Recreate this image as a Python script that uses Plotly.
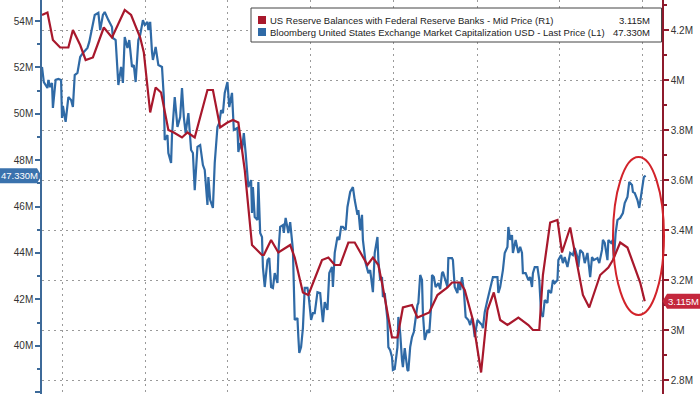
import pandas as pd
import plotly.graph_objects as go

# ---------------- data ----------------
START = "2021-09-09"   # first observation; offsets below are calendar days from it

mktcap_days = [0, 2, 6, 7, 9, 11, 12, 15, 18, 21, 22, 23, 25, 26, 29, 32, 34, 36, 39, 42,
               45, 50, 52, 55, 58, 62, 64, 67, 69, 73, 77, 78, 81, 84, 87, 89, 91, 94, 96, 99,
               101, 103, 106, 108, 111, 113, 116, 117, 119, 121, 122, 125, 128, 132, 134, 135, 138, 139, 142, 143,
               146, 149, 152, 154, 156, 158, 161, 164, 166, 168, 171, 174, 176, 177, 179, 182, 183, 185, 188, 190,
               193, 195, 197, 199, 201, 204, 206, 209, 211, 215, 216, 218, 220, 222, 224, 226, 227, 230, 231, 232,
               234, 237, 238, 240, 242, 243, 245, 248, 250, 252, 254, 256, 259, 260, 262, 265, 266, 268, 271, 273,
               275, 276, 278, 281, 282, 283, 285, 287, 289, 292, 293, 296, 298, 300, 303, 306, 308, 309, 311, 314,
               316, 319, 320, 322, 325, 327, 329, 331, 334, 336, 339, 342, 344, 347, 348, 350, 352, 353, 356, 359,
               361, 363, 364, 366, 369, 370, 372, 374, 375, 377, 380, 381, 383, 385, 386, 388, 391, 392, 394, 396,
               397, 399, 402, 403, 405, 407, 409, 413, 414, 416, 418, 419, 421, 424, 426, 428, 429, 431, 433, 436,
               438, 440, 441, 446, 447, 451, 452, 454, 457, 458, 460, 462, 464, 466, 469, 471, 473, 474, 476, 479,
               481, 484, 485, 487, 490, 493, 496, 501, 502, 504, 507, 509, 512, 513, 515, 517, 518, 521, 524, 526,
               528, 529, 532, 535, 537, 539, 540, 542, 545, 547, 549, 551, 553, 556, 557, 560, 562, 564, 567, 568,
               571, 573, 575, 578, 581, 584, 586, 589, 590, 592, 595, 597, 600, 603, 605, 607, 611, 613, 616, 617,
               619, 622, 623, 626, 628, 629, 631, 633, 636, 639, 641, 644, 646, 649, 650, 652, 655, 657, 659, 661,
               662, 664]

mktcap_vals = [52.02, 51.37, 51.11, 51.46, 51.15, 51.33, 50.25, 51.46, 51.50, 51.46, 49.82, 50.34, 49.86, 49.65, 50.72, 50.59, 50.29, 51.67, 51.76, 52.45,
               52.62, 52.84, 53.10, 53.74, 54.26, 54.35, 53.61, 54.26, 54.39, 54.04, 53.74, 53.27, 53.18, 51.24, 52.02, 51.33, 53.31, 52.84, 53.18, 52.02,
               52.10, 51.37, 53.18, 53.40, 54.04, 53.83, 53.96, 53.61, 53.96, 52.66, 52.32, 52.88, 52.10, 52.02, 50.72, 48.87, 49.08, 48.31, 47.88, 49.08,
               50.72, 49.43, 49.86, 51.11, 49.86, 49.17, 50.03, 48.44, 48.31, 46.71, 48.57, 48.65, 47.88, 47.79, 47.58, 46.07, 47.27, 46.28, 45.94, 47.88,
               49.43, 49.60, 50.16, 50.03, 50.90, 51.37, 50.29, 50.90, 49.30, 49.39, 48.35, 48.74, 48.44, 49.17, 48.31, 47.14, 46.84, 47.14, 45.72, 46.84,
               45.55, 45.42, 47.06, 44.86, 44.69, 43.39, 42.53, 43.69, 43.78, 42.53, 42.49, 43.13, 42.70, 44.00, 45.12, 45.20, 44.86, 45.51, 44.86, 45.33,
               44.26, 44.13, 41.11, 41.19, 40.37, 39.69, 39.94, 40.76, 42.49, 42.49, 42.27, 41.11, 41.40, 41.40, 42.31, 42.27, 41.40, 41.02, 41.88, 41.54,
               43.13, 43.39, 42.53, 44.00, 44.69, 44.56, 45.12, 45.12, 44.99, 45.98, 46.63, 46.84, 46.28, 45.64, 45.85, 44.99, 45.64, 44.56, 43.56, 43.13,
               43.26, 42.40, 42.31, 44.00, 44.69, 43.69, 42.83, 42.96, 42.10, 42.27, 41.11, 39.94, 39.81, 39.51, 38.95, 38.99, 39.94, 41.24, 40.55, 39.38,
               39.08, 39.90, 38.95, 38.91, 39.94, 40.37, 40.59, 41.75, 41.84, 43.05, 42.83, 41.40, 40.25, 40.68, 40.55, 41.67, 43.05, 42.96, 42.53, 42.70,
               42.44, 43.13, 43.18, 42.53, 43.78, 43.78, 43.69, 42.53, 42.27, 42.75, 42.40, 42.96, 42.40, 41.24, 41.11, 40.89, 41.19, 41.02, 40.37, 41.11,
               41.02, 40.89, 40.76, 41.45, 41.97, 42.53, 42.96, 42.96, 42.27, 42.53, 43.26, 44.00, 44.26, 45.12, 44.56, 44.77, 44.00, 44.56, 44.00, 44.26,
               44.00, 43.13, 43.13, 42.83, 42.96, 42.53, 43.13, 43.39, 43.39, 42.83, 41.40, 41.24, 41.97, 41.84, 42.40, 42.27, 42.83, 42.70, 42.83, 43.69,
               43.91, 43.56, 43.82, 43.39, 44.00, 43.91, 44.21, 43.82, 43.39, 44.13, 44.00, 43.56, 44.00, 42.96, 43.82, 43.69, 43.78, 43.56, 44.13, 44.56,
               44.43, 43.69, 44.56, 44.43, 44.56, 43.69, 44.86, 45.42, 45.51, 45.72, 46.15, 46.41, 47.06, 46.93, 46.63, 46.58, 46.28, 45.94, 46.41, 47.01,
               47.27, 47.33]

reserve_days = [0, 6, 12, 20, 29, 34, 42, 48, 56, 68, 77, 91, 98, 108, 112, 119, 125, 131, 139, 145,
                154, 160, 168, 182, 188, 196, 204, 210, 216, 223, 231, 242, 244, 252, 260, 273, 278, 287, 293, 308,
                315, 322, 328, 337, 344, 358, 364, 370, 375, 385, 391, 397, 407, 413, 426, 435, 446, 451, 460, 465,
                474, 483, 490, 497, 504, 512, 524, 535, 540, 547, 551, 559, 567, 572, 581, 595, 602, 614, 623, 628,
                636, 644, 658, 663]

reserve_vals = [4.26, 4.27, 4.16, 4.13, 4.13, 4.20, 4.14, 4.08, 4.09, 4.21, 4.17, 4.28, 4.26, 4.17, 4.11, 3.87, 3.97, 3.95, 3.80, 3.79,
                3.77, 3.79, 3.77, 3.96, 3.96, 3.81, 3.83, 3.84, 3.83, 3.64, 3.34, 3.30, 3.30, 3.36, 3.31, 3.34, 3.29, 3.15, 3.14, 3.28,
                3.29, 3.26, 3.26, 3.35, 3.35, 3.26, 3.29, 3.26, 3.17, 2.97, 2.97, 3.09, 3.10, 3.05, 3.07, 3.14, 3.17, 3.19, 3.19, 3.16,
                3.04, 2.83, 3.08, 3.15, 3.04, 3.02, 3.05, 3.02, 3.00, 3.00, 3.22, 3.43, 3.44, 3.31, 3.41, 3.14, 3.09, 3.22, 3.25, 3.28,
                3.35, 3.33, 3.19, 3.115]

left_tick_vals = [38, 40, 42, 44, 46, 48, 50, 52, 54]
left_tick_text = ["38M", "40M", "42M", "44M", "46M", "48M", "50M", "52M", "54M"]
right_tick_vals = [2.8, 3.0, 3.2, 3.4, 3.6, 3.8, 4.0, 4.2]
right_tick_text = ["2.8M", "3M", "3.2M", "3.4M", "3.6M", "3.8M", "4M", "4.2M"]

reserve_name = "US Reserve Balances with Federal Reserve Banks - Mid Price (R1)"
mktcap_name = "Bloomberg United States Exchange Market Capitalization USD - Last Price (L1)"

# ---------------- layout constants ----------------
W, H = 700, 394
ML, MR, MT, MB = 42, 38, 0, 0
PW, PH = W - ML - MR, H - MT - MB
LEFT_RANGE = [37.917, 54.906]
RIGHT_RANGE = [2.744, 4.32]
X_RANGE_DAYS = [0, 682]

RED = "#a8182c"
BLUE = "#2f6aa6"
LEFT_AXIS = "#3d6a99"
RIGHT_AXIS = "#8e1a2c"
GRID = "#9a9a9a"
FONT = "Liberation Sans"
LEG_SIZE = 9.5

start = pd.Timestamp(START)
mk_x = start + pd.to_timedelta(mktcap_days, unit="D")
rs_x = start + pd.to_timedelta(reserve_days, unit="D")
x_range = [start + pd.Timedelta(days=X_RANGE_DAYS[0]), start + pd.Timedelta(days=X_RANGE_DAYS[1])]


def px(x):
    return (x - ML) / PW


def py(y):
    return (H - MB - y) / PH


def vy(v, rng):
    return (v - rng[0]) / (rng[1] - rng[0])


fig = go.Figure()
fig.add_trace(go.Scatter(x=mk_x, y=mktcap_vals, mode="lines", name=mktcap_name,
                         line=dict(color=BLUE, width=2.2), yaxis="y", hoverinfo="skip"))
fig.add_trace(go.Scatter(x=rs_x, y=reserve_vals, mode="lines", name=reserve_name,
                         line=dict(color=RED, width=2.2), yaxis="y2", hoverinfo="skip"))

shapes = []
annotations = []

# legend box
shapes.append(dict(type="rect", xref="paper", yref="paper", x0=px(251), x1=px(661.5), y0=py(42), y1=py(8),
                   line=dict(color="#444444", width=1), fillcolor="white", layer="above"))
for (col, ytop, txt, val) in [(RED, 16, reserve_name, f"{reserve_vals[-1]:.3f}M"),
                              (BLUE, 28, mktcap_name, f"{mktcap_vals[-1]:.3f}M")]:
    shapes.append(dict(type="rect", xref="paper", yref="paper", x0=px(258), x1=px(266), y0=py(ytop + 8), y1=py(ytop),
                       line=dict(width=0), fillcolor=col, layer="above"))
    annotations.append(dict(xref="paper", yref="paper", x=px(267.5), y=py(ytop + 4), text=txt, showarrow=False,
                            xanchor="left", yanchor="middle", font=dict(family=FONT, size=LEG_SIZE, color="#222222")))
    annotations.append(dict(xref="paper", yref="paper", x=px(652), y=py(ytop + 4), text=val, showarrow=False,
                            xanchor="right", yanchor="middle", font=dict(family=FONT, size=LEG_SIZE, color="#222222")))

# last value tag on the left axis
bv = vy(mktcap_vals[-1], LEFT_RANGE)
bh = 7.5 / PH
shapes.append(dict(type="path", xref="paper", yref="paper",
                   path=f"M {px(0)},{bv-bh} L {px(37)},{bv-bh} L {px(41.5)},{bv} L {px(37)},{bv+bh} L {px(0)},{bv+bh} Z",
                   fillcolor="#3a72ad", line=dict(width=0), layer="above"))
annotations.append(dict(xref="paper", yref="paper", x=px(19), y=bv, text=f"{mktcap_vals[-1]:.3f}M", showarrow=False,
                        xanchor="center", yanchor="middle", font=dict(family=FONT, size=9.5, color="white")))

# last value tag on the right axis
rv = vy(reserve_vals[-1], RIGHT_RANGE)
rh = 7.5 / PH
shapes.append(dict(type="path", xref="paper", yref="paper",
                   path=f"M {px(662.5)},{rv} L {px(667)},{rv-rh} L {px(700)},{rv-rh} L {px(700)},{rv+rh} L {px(667)},{rv+rh} Z",
                   fillcolor="#c4273c", line=dict(width=0), layer="above"))
annotations.append(dict(xref="paper", yref="paper", x=px(683.5), y=rv, text=f"{reserve_vals[-1]:.3f}M", showarrow=False,
                        xanchor="center", yanchor="middle", font=dict(family=FONT, size=9.5, color="white")))

# highlight ellipse
shapes.append(dict(type="circle", xref="paper", yref="paper", x0=px(613), x1=px(664), y0=py(315), y1=py(157),
                   line=dict(color="#d2232a", width=2), layer="above"))

fig.update_layout(
    width=W, height=H,
    margin=dict(l=ML, r=MR, t=MT, b=MB, pad=0),
    paper_bgcolor="white", plot_bgcolor="white",
    showlegend=False,
    hovermode=False,
    font=dict(family=FONT, size=10, color="#333333"),
    xaxis=dict(type="date", range=x_range, showticklabels=False, ticks="",
               showgrid=True, gridcolor=GRID, griddash="2px,4px", gridwidth=1,
               tick0="2021-10-01", dtick="M3", zeroline=False, showline=False),
    yaxis=dict(range=LEFT_RANGE, tickmode="array", tickvals=left_tick_vals, ticktext=left_tick_text,
               showgrid=False, zeroline=False, showline=True, linecolor=LEFT_AXIS, linewidth=1.5,
               ticks="outside", ticklen=5, tickcolor=LEFT_AXIS, tickwidth=1.5,
               tickfont=dict(family=FONT, size=10, color="#333333"),
               minor=dict(tick0=0, dtick=1, ticks="outside", ticklen=3, tickcolor=LEFT_AXIS, showgrid=False)),
    yaxis2=dict(range=RIGHT_RANGE, overlaying="y", side="right", tickmode="array",
                tickvals=right_tick_vals, ticktext=right_tick_text,
                showgrid=True, gridcolor=GRID, griddash="2px,4px", gridwidth=1,
                zeroline=False, showline=True, linecolor=RIGHT_AXIS, linewidth=1.5,
                ticks="outside", ticklen=5, tickcolor=RIGHT_AXIS, tickwidth=1.5,
                tickfont=dict(family=FONT, size=10, color="#333333"),
                minor=dict(tick0=0, dtick=0.1, ticks="outside", ticklen=3, tickcolor=RIGHT_AXIS, showgrid=False)),
    shapes=shapes,
    annotations=annotations,
)

fig.write_html(
    "out.html",
    config={"displayModeBar": False},
    post_script="document.body.style.margin='0px';document.body.style.padding='0px';document.body.style.overflow='hidden';",
)
